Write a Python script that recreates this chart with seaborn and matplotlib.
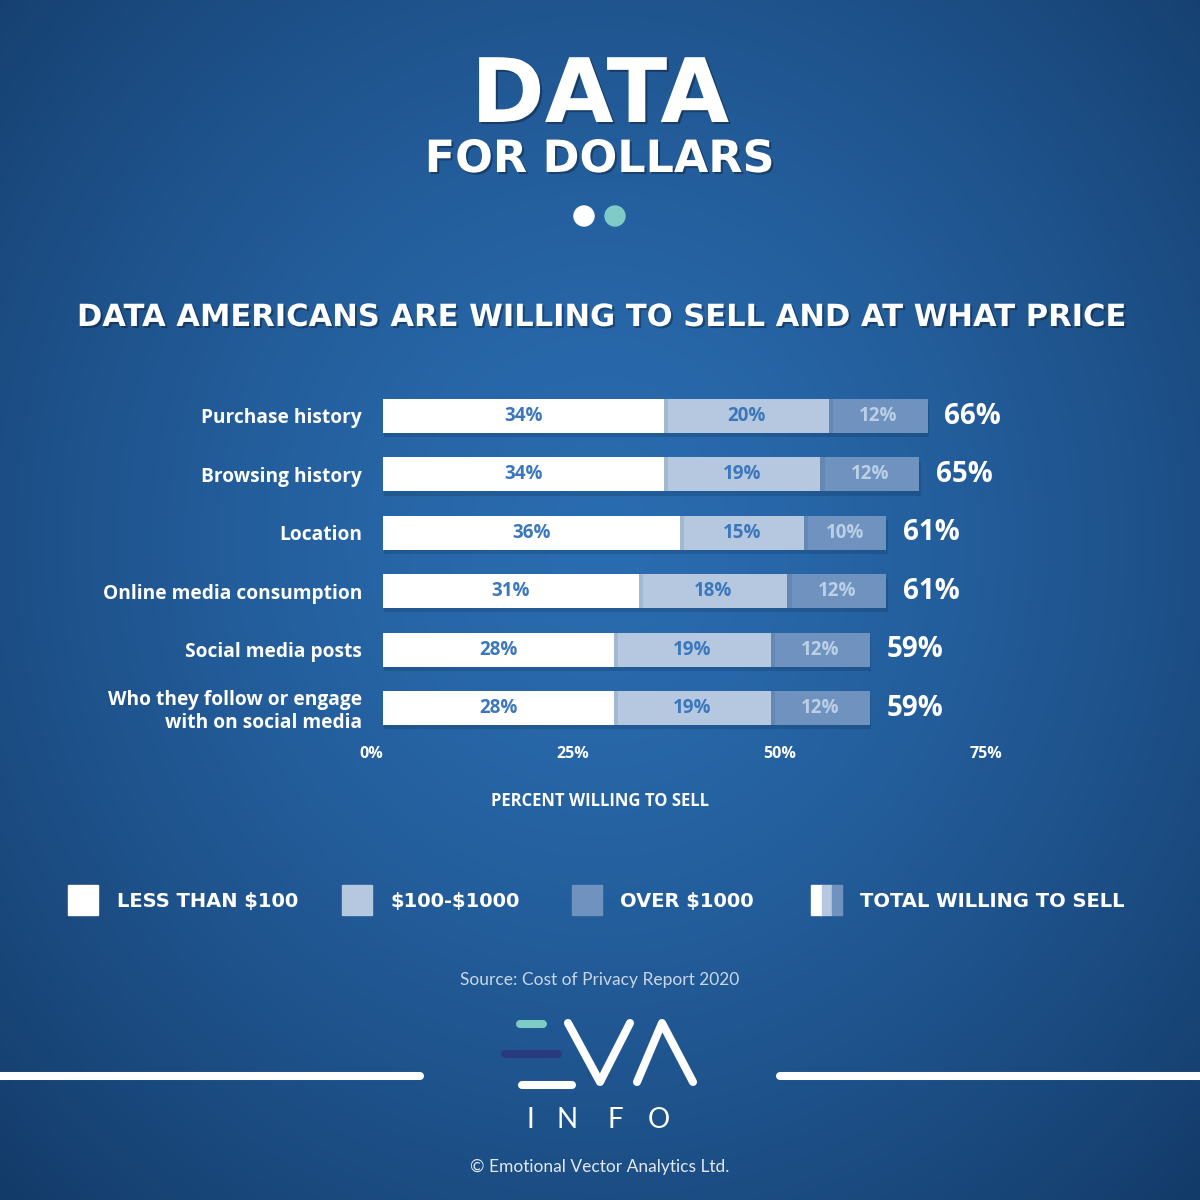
import numpy as np
import pandas as pd
import matplotlib
matplotlib.use("Agg")
import matplotlib.pyplot as plt
import matplotlib.patheffects as pe
import seaborn as sns
from matplotlib.patches import Rectangle, Circle
from matplotlib.lines import Line2D

# chart values
categories = ["Purchase history", "Browsing history", "Location",
              "Online media consumption", "Social media posts",
              "Who they follow or engage\nwith on social media"]
under_100 = [34, 34, 36, 31, 28, 28]
from_100_to_1000 = [20, 19, 15, 18, 19, 19]
over_1000 = [12, 12, 10, 12, 12, 12]
totals = [66, 65, 61, 61, 59, 59]
x_ticks = [0, 25, 50, 75]
x_tick_labels = ["0%", "25%", "50%", "75%"]
legend_labels = ["LESS THAN $100", "$100-$1000", "OVER $1000", "TOTAL WILLING TO SELL"]

WHITE = "#ffffff"
LIGHT = "#b5c8df"
MID = "#6f93be"
TEAL = "#7fcbc6"
NAVY = "#2a3a80"
WIDE = ["DejaVu Sans"]

sns.set_theme(style="white")
plt.rcParams["font.family"] = ["Open Sans", "DejaVu Sans"]

df = pd.DataFrame({"category": categories, "under": under_100,
                   "mid": from_100_to_1000, "over": over_1000})
df["low_mid"] = df["under"] + df["mid"]
df["all"] = df["low_mid"] + df["over"]

fig = plt.figure(figsize=(12, 12), dpi=100)

def fx(px):
    return px / 1200

def fy(py):
    return 1 - py / 1200

# background radial gradient
bg = fig.add_axes([0, 0, 1, 1], zorder=0)
yy, xx = np.mgrid[0:1:400j, 0:1:400j]
r = np.sqrt(((xx - 0.5) / 0.72) ** 2 + ((yy - 0.45) / 0.78) ** 2)
t = np.clip(r, 0, 1) ** 1.4
c_in = np.array([0x2a, 0x6c, 0xb0]) / 255
c_out = np.array([0x13, 0x3a, 0x68]) / 255
img = c_in[None, None, :] * (1 - t[..., None]) + c_out[None, None, :] * t[..., None]
bg.imshow(img, extent=[0, 1, 0, 1], aspect="auto", origin="upper")
bg.set_axis_off()

shadow = [pe.withSimplePatchShadow(offset=(1.5, -1.5), shadow_rgbFace="black", alpha=0.3)]

# headings
fig.text(0.5, fy(122), "DATA", ha="center", va="baseline", fontsize=64,
         weight="bold", family=WIDE, color="white", path_effects=shadow)
fig.text(0.5, fy(172), "FOR DOLLARS", ha="center", va="baseline", fontsize=32,
         weight="bold", family=WIDE, color="white", path_effects=shadow)
fig.patches.append(Circle((fx(584), fy(216)), 10 / 1200, color="white",
                          transform=fig.transFigure))
fig.patches.append(Circle((fx(615), fy(216)), 10 / 1200, color=TEAL,
                          transform=fig.transFigure))
fig.text(0.5, fy(326), "DATA AMERICANS ARE WILLING TO SELL AND AT WHAT PRICE",
         ha="center", va="baseline", fontsize=22, weight="bold", family=WIDE,
         color="white", path_effects=shadow)

# main chart
ax = fig.add_axes([fx(383), fy(737.2), 619 / 1200, 350.4 / 1200], zorder=2)
ax.patch.set_alpha(0)
sns.barplot(data=df, y="category", x="all", orient="h", color=MID,
            saturation=1, width=0.58, linewidth=0, ax=ax)
n_all = len(ax.patches)
sns.barplot(data=df, y="category", x="low_mid", orient="h", color=LIGHT,
            saturation=1, width=0.58, linewidth=0, ax=ax)
sns.barplot(data=df, y="category", x="under", orient="h", color=WHITE,
            saturation=1, width=0.58, linewidth=0, ax=ax)
for i, p in enumerate(ax.patches):
    p.set_edgecolor("none")
    if i < n_all:
        p.set_path_effects([pe.SimplePatchShadow(offset=(1, -3), shadow_rgbFace="#0a2544", alpha=0.2),
                            pe.Normal()])
    else:
        p.set_path_effects([pe.SimplePatchShadow(offset=(3, 0), shadow_rgbFace="#1d3f6a", alpha=0.12),
                            pe.Normal()])

for i in range(len(df)):
    u, m, o, tot = df.loc[i, "under"], df.loc[i, "mid"], df.loc[i, "over"], totals[i]
    ax.text(u / 2, i, f"{u}%", ha="center", va="center", fontsize=13.5,
            weight="bold", color="#3b77bd")
    ax.text(u + m / 2, i, f"{m}%", ha="center", va="center", fontsize=13.5,
            weight="bold", color="#3b77bd")
    ax.text(u + m + o / 2, i, f"{o}%", ha="center", va="center", fontsize=13.5,
            weight="bold", color="#bccfe6")
    ax.text(tot + 2, i, f"{tot}%", ha="left", va="center", fontsize=20,
            weight="bold", color="white", clip_on=False)

ax.set_xlim(0, 75)
ax.set_ylim(5.5, -0.5)
ax.set_xticks(x_ticks)
ax.set_xticklabels(x_tick_labels, ha="right")
ax.tick_params(axis="x", length=0, pad=6, labelsize=11.5, labelcolor="white")
ax.tick_params(axis="y", length=0, pad=15, labelsize=13.8, labelcolor="white")
for lab in ax.get_xticklabels() + ax.get_yticklabels():
    lab.set_fontweight("bold")
for lab in ax.get_yticklabels():
    lab.set_multialignment("right")
ax.set_ylabel("")
ax.set_xlabel("PERCENT WILLING TO SELL", fontsize=12, weight="bold", color="white")
ax.xaxis.set_label_coords((600 - 383) / 619, (737.2 - 792) / 350.4)
ax.xaxis.label.set_va("top")
for s in ax.spines.values():
    s.set_visible(False)
ax.grid(False)

# legend
sq = 30
legend_boxes = [(68, WHITE), (342, LIGHT), (572, MID)]
for x0, col in legend_boxes:
    fig.patches.append(Rectangle((fx(x0), fy(915)), sq / 1200, sq / 1200,
                                 color=col, transform=fig.transFigure))
for x0, w, col in [(811, 11, WHITE), (822, 10, LIGHT), (832, 10, MID)]:
    fig.patches.append(Rectangle((fx(x0), fy(915)), w / 1200, sq / 1200,
                                 color=col, transform=fig.transFigure))
for x0, lab in zip([117, 390, 620, 860], legend_labels):
    fig.text(fx(x0), fy(907), lab, ha="left", va="baseline", fontsize=14,
             weight="bold", family=WIDE, color="white", parse_math=False)

fig.text(0.5, fy(980), "Source: Cost of Privacy Report 2020", ha="center",
         va="center", fontsize=12.5, family=["Lato", "DejaVu Sans"], color="#c9d6e8")

# logo
lw = 5.8
def seg(xs, ys, col):
    fig.lines.append(Line2D([fx(v) for v in xs], [fy(v) for v in ys], color=col,
                            lw=lw, solid_capstyle="round", solid_joinstyle="round",
                            transform=fig.transFigure))

seg([0, 420], [1076, 1076], "white")
seg([780, 1200], [1076, 1076], "white")
seg([520, 543], [1024, 1024], TEAL)
seg([505, 558], [1054, 1054], NAVY)
seg([522, 572], [1085, 1085], "white")
seg([568, 600, 630], [1023, 1082, 1023], "white")
seg([637, 662, 693], [1082, 1023, 1082], "white")
for x0, ch in zip([530, 567, 615, 659], "INFO"):
    fig.text(fx(x0), fy(1128), ch, ha="center", va="baseline", fontsize=20,
             family=["Lato", "DejaVu Sans"], color="white")
fig.text(0.5, fy(1167), "\u00a9 Emotional Vector Analytics Ltd.", ha="center",
         va="center", fontsize=12.5, family=["Lato", "DejaVu Sans"], color="#e3e9f2")

fig.savefig("out.png", dpi=100)
